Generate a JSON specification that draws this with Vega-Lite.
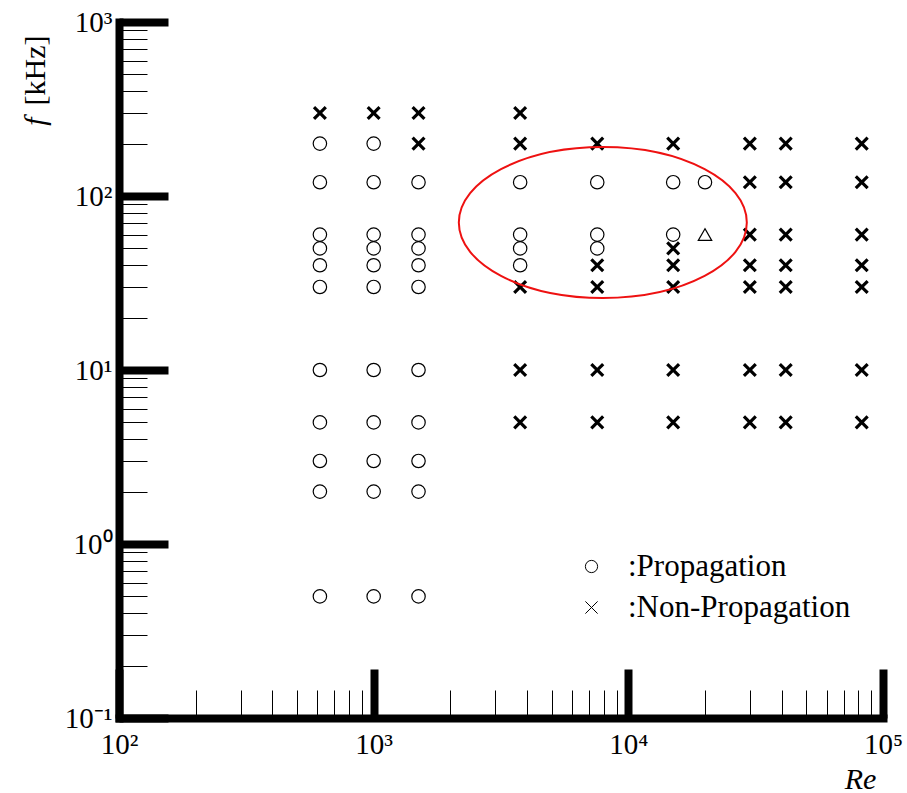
{
  "$schema": "https://vega.github.io/schema/vega-lite/v6.json",
  "width": 764,
  "height": 696,
  "autosize": {"type": "none"},
  "padding": {"left": 119, "top": 22, "right": 24, "bottom": 75},
  "background": "white",
  "config": {"view": {"stroke": null}, "font": "Liberation Serif"},
  "layer": [
    {
      "data": {
        "values": [
          {"Re": 615, "f": 300, "result": "Non-Propagation"},
          {"Re": 615, "f": 200, "result": "Propagation"},
          {"Re": 615, "f": 120, "result": "Propagation"},
          {"Re": 615, "f": 60, "result": "Propagation"},
          {"Re": 615, "f": 50, "result": "Propagation"},
          {"Re": 615, "f": 40, "result": "Propagation"},
          {"Re": 615, "f": 30, "result": "Propagation"},
          {"Re": 615, "f": 10, "result": "Propagation"},
          {"Re": 615, "f": 5, "result": "Propagation"},
          {"Re": 615, "f": 3, "result": "Propagation"},
          {"Re": 615, "f": 2, "result": "Propagation"},
          {"Re": 615, "f": 0.5, "result": "Propagation"},
          {"Re": 1000, "f": 300, "result": "Non-Propagation"},
          {"Re": 1000, "f": 200, "result": "Propagation"},
          {"Re": 1000, "f": 120, "result": "Propagation"},
          {"Re": 1000, "f": 60, "result": "Propagation"},
          {"Re": 1000, "f": 50, "result": "Propagation"},
          {"Re": 1000, "f": 40, "result": "Propagation"},
          {"Re": 1000, "f": 30, "result": "Propagation"},
          {"Re": 1000, "f": 10, "result": "Propagation"},
          {"Re": 1000, "f": 5, "result": "Propagation"},
          {"Re": 1000, "f": 3, "result": "Propagation"},
          {"Re": 1000, "f": 2, "result": "Propagation"},
          {"Re": 1000, "f": 0.5, "result": "Propagation"},
          {"Re": 1500, "f": 300, "result": "Non-Propagation"},
          {"Re": 1500, "f": 200, "result": "Non-Propagation"},
          {"Re": 1500, "f": 120, "result": "Propagation"},
          {"Re": 1500, "f": 60, "result": "Propagation"},
          {"Re": 1500, "f": 50, "result": "Propagation"},
          {"Re": 1500, "f": 40, "result": "Propagation"},
          {"Re": 1500, "f": 30, "result": "Propagation"},
          {"Re": 1500, "f": 10, "result": "Propagation"},
          {"Re": 1500, "f": 5, "result": "Propagation"},
          {"Re": 1500, "f": 3, "result": "Propagation"},
          {"Re": 1500, "f": 2, "result": "Propagation"},
          {"Re": 1500, "f": 0.5, "result": "Propagation"},
          {"Re": 3760, "f": 300, "result": "Non-Propagation"},
          {"Re": 3760, "f": 200, "result": "Non-Propagation"},
          {"Re": 3760, "f": 120, "result": "Propagation"},
          {"Re": 3760, "f": 60, "result": "Propagation"},
          {"Re": 3760, "f": 50, "result": "Propagation"},
          {"Re": 3760, "f": 40, "result": "Propagation"},
          {"Re": 3760, "f": 30, "result": "Non-Propagation"},
          {"Re": 3760, "f": 10, "result": "Non-Propagation"},
          {"Re": 3760, "f": 5, "result": "Non-Propagation"},
          {"Re": 7550, "f": 200, "result": "Non-Propagation"},
          {"Re": 7550, "f": 120, "result": "Propagation"},
          {"Re": 7550, "f": 60, "result": "Propagation"},
          {"Re": 7550, "f": 50, "result": "Propagation"},
          {"Re": 7550, "f": 40, "result": "Non-Propagation"},
          {"Re": 7550, "f": 30, "result": "Non-Propagation"},
          {"Re": 7550, "f": 10, "result": "Non-Propagation"},
          {"Re": 7550, "f": 5, "result": "Non-Propagation"},
          {"Re": 15000, "f": 200, "result": "Non-Propagation"},
          {"Re": 15000, "f": 120, "result": "Propagation"},
          {"Re": 15000, "f": 60, "result": "Propagation"},
          {"Re": 15000, "f": 50, "result": "Non-Propagation"},
          {"Re": 15000, "f": 40, "result": "Non-Propagation"},
          {"Re": 15000, "f": 30, "result": "Non-Propagation"},
          {"Re": 15000, "f": 10, "result": "Non-Propagation"},
          {"Re": 15000, "f": 5, "result": "Non-Propagation"},
          {"Re": 20000, "f": 120, "result": "Propagation"},
          {"Re": 20000, "f": 60, "result": "Partial"},
          {"Re": 30000, "f": 200, "result": "Non-Propagation"},
          {"Re": 30000, "f": 120, "result": "Non-Propagation"},
          {"Re": 30000, "f": 60, "result": "Non-Propagation"},
          {"Re": 30000, "f": 40, "result": "Non-Propagation"},
          {"Re": 30000, "f": 30, "result": "Non-Propagation"},
          {"Re": 30000, "f": 10, "result": "Non-Propagation"},
          {"Re": 30000, "f": 5, "result": "Non-Propagation"},
          {"Re": 41500, "f": 200, "result": "Non-Propagation"},
          {"Re": 41500, "f": 120, "result": "Non-Propagation"},
          {"Re": 41500, "f": 60, "result": "Non-Propagation"},
          {"Re": 41500, "f": 40, "result": "Non-Propagation"},
          {"Re": 41500, "f": 30, "result": "Non-Propagation"},
          {"Re": 41500, "f": 10, "result": "Non-Propagation"},
          {"Re": 41500, "f": 5, "result": "Non-Propagation"},
          {"Re": 82500, "f": 200, "result": "Non-Propagation"},
          {"Re": 82500, "f": 120, "result": "Non-Propagation"},
          {"Re": 82500, "f": 60, "result": "Non-Propagation"},
          {"Re": 82500, "f": 40, "result": "Non-Propagation"},
          {"Re": 82500, "f": 30, "result": "Non-Propagation"},
          {"Re": 82500, "f": 10, "result": "Non-Propagation"},
          {"Re": 82500, "f": 5, "result": "Non-Propagation"}
        ]
      },
      "mark": {"type": "point", "filled": false, "stroke": "black", "opacity": 1, "fill": "transparent"},
      "encoding": {
        "x": {
          "field": "Re",
          "type": "quantitative",
          "scale": {"type": "log", "domain": [100, 100000], "nice": false},
          "axis": {
            "orient": "bottom",
            "values": [100, 1000, 10000, 100000],
            "grid": false,
            "tickSize": -49,
            "tickWidth": 8,
            "tickColor": "black",
            "tickCap": "butt",
            "domainWidth": 8,
            "domainColor": "black",
            "domainCap": "square",
            "labelExpr": "'10' + ['⁻¹','⁰','¹','²','³','⁴','⁵'][round(log(datum.value) / LN10) + 1]",
            "labelFont": "Liberation Serif",
            "labelFontSize": 29,
            "labelColor": "black",
            "labelPadding": 61,
            "labelFlush": false,
            "labelOverlap": false,
            "labelBaseline": "top",
            "title": "Re",
            "titleFont": "Liberation Serif",
            "titleFontStyle": "italic",
            "titleFontWeight": "normal",
            "titleFontSize": 30,
            "titleColor": "black",
            "titleX": 741,
            "titleY": 70,
            "titleAlign": "center",
            "titleBaseline": "alphabetic"
          }
        },
        "y": {
          "field": "f",
          "type": "quantitative",
          "scale": {"type": "log", "domain": [0.1, 1000], "nice": false},
          "axis": {
            "orient": "left",
            "values": [0.1, 1, 10, 100, 1000],
            "grid": false,
            "tickSize": -49,
            "tickWidth": 8,
            "tickColor": "black",
            "tickCap": "butt",
            "domainWidth": 8,
            "domainColor": "black",
            "domainCap": "square",
            "labelExpr": "'10' + ['⁻¹','⁰','¹','²','³','⁴','⁵'][round(log(datum.value) / LN10) + 1]",
            "labelFont": "Liberation Serif",
            "labelFontSize": 29,
            "labelColor": "black",
            "labelPadding": 56,
            "labelFlush": false,
            "labelOverlap": false,
            "labelAlign": "right",
            "labelBaseline": "middle",
            "title": "[kHz]",
            "titleFont": "Liberation Serif",
            "titleFontWeight": "normal",
            "titleFontSize": 30,
            "titleColor": "black",
            "titleAngle": -90,
            "titleX": -84,
            "titleY": 48,
            "titleAlign": "center",
            "titleBaseline": "middle"
          }
        },
        "shape": {
          "field": "result",
          "type": "nominal",
          "scale": {
            "domain": ["Propagation", "Non-Propagation", "Partial"],
            "range": ["circle", "M-1,-1L1,1M-1,1L1,-1", "triangle-up"]
          },
          "legend": {
            "values": ["Propagation", "Non-Propagation"],
            "title": null,
            "orient": "none",
            "legendX": 457,
            "legendY": 529,
            "padding": 0,
            "labelExpr": "':' + datum.label",
            "labelFont": "Liberation Serif",
            "labelFontSize": 31,
            "labelColor": "black",
            "labelOffset": 21,
            "labelLimit": 400,
            "symbolSize": 150,
            "symbolStrokeWidth": 1,
            "symbolStrokeColor": "black",
            "symbolFillColor": "transparent",
            "rowPadding": 9
          }
        },
        "size": {
          "condition": {"test": "datum.result === 'Non-Propagation'", "value": 140},
          "value": 180
        },
        "strokeWidth": {
          "condition": {"test": "datum.result === 'Non-Propagation'", "value": 3.2},
          "value": 1.2
        }
      }
    },
    {
      "data": {"values": [{}]},
      "mark": {
        "type": "point",
        "shape": "M-1,0A1,0.524 0 1,1 1,0A1,0.524 0 1,1 -1,0Z",
        "size": 82944,
        "filled": false,
        "fill": "transparent",
        "stroke": "#ee1111",
        "strokeWidth": 2,
        "opacity": 1
      },
      "encoding": {
        "x": {
          "datum": 7940,
          "type": "quantitative",
          "scale": {"type": "log", "domain": [100, 100000], "nice": false},
          "axis": {
            "orient": "bottom",
            "values": [200, 300, 400, 500, 600, 700, 800, 900, 2000, 3000, 4000, 5000, 6000, 7000, 8000, 9000, 20000, 30000, 40000, 50000, 60000, 70000, 80000, 90000],
            "grid": false,
            "domain": false,
            "labels": false,
            "tickSize": -28,
            "tickWidth": 1,
            "tickColor": "black",
            "title": null
          }
        },
        "y": {
          "datum": 70.4,
          "type": "quantitative",
          "scale": {"type": "log", "domain": [0.1, 1000], "nice": false},
          "axis": {
            "orient": "left",
            "values": [0.2, 0.3, 0.4, 0.5, 0.6, 0.7, 0.8, 0.9, 2, 3, 4, 5, 6, 7, 8, 9, 20, 30, 40, 50, 60, 70, 80, 90, 200, 300, 400, 500, 600, 700, 800, 900],
            "grid": false,
            "domain": false,
            "labels": false,
            "tickSize": -28,
            "tickWidth": 1,
            "tickColor": "black",
            "title": "f",
            "titleFont": "Liberation Serif",
            "titleFontStyle": "italic",
            "titleFontWeight": "normal",
            "titleFontSize": 30,
            "titleColor": "black",
            "titleAngle": -90,
            "titleX": -84,
            "titleY": 99,
            "titleAlign": "center",
            "titleBaseline": "middle"
          }
        }
      }
    }
  ],
  "resolve": {"axis": {"x": "independent", "y": "independent"}}
}
